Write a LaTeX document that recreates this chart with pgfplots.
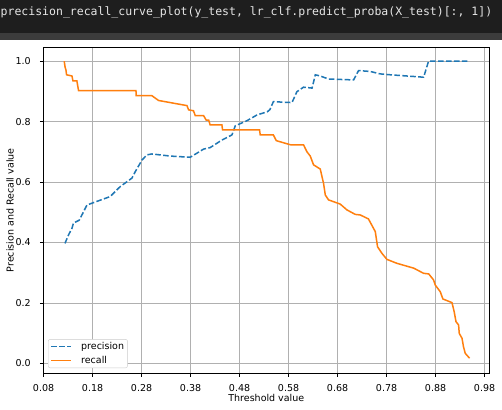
\documentclass[border=0pt]{standalone}
\usepackage{pgfplots}
\pgfplotsset{compat=1.18}
\usepackage{fontspec}
\setmainfont{DejaVu Sans}
\newfontfamily\codefont{DejaVu Sans Mono}
\definecolor{tabblue}{HTML}{1F77B4}
\definecolor{taborange}{HTML}{FF7F0E}
\definecolor{gridgray}{HTML}{B0B0B0}
\definecolor{hdrdark}{HTML}{1E1E1E}
\definecolor{hdrgray}{HTML}{3C3C3C}
\definecolor{hdrtext}{HTML}{E6E6E6}
\definecolor{legedge}{HTML}{CCCCCC}

\pgfplotstableread{
x y
0.1237 0.397
0.131 0.425
0.138 0.447
0.141 0.464
0.153 0.474
0.1686 0.524
0.216 0.552
0.2365 0.585
0.2604 0.613
0.267 0.634
0.281 0.673
0.291 0.690
0.301 0.693
0.3386 0.686
0.3794 0.682
0.4065 0.709
0.420 0.714
0.444 0.739
0.4645 0.756
0.4712 0.786
0.495 0.803
0.5155 0.822
0.537 0.833
0.542 0.840
0.549 0.866
0.587 0.863
0.597 0.899
0.6106 0.914
0.628 0.911
0.6346 0.955
0.6447 0.951
0.6616 0.941
0.7127 0.938
0.7229 0.969
0.7467 0.966
0.767 0.958
0.7876 0.955
0.8557 0.947
0.8657 1.0
0.9494 1.0
}\precisiontable

\pgfplotstableread{
x y
0.1222 1.000
0.1240 0.980
0.1257 0.971
0.1270 0.955
0.1380 0.951
0.1400 0.935
0.1480 0.935
0.1514 0.903
0.2686 0.903
0.2690 0.886
0.3010 0.886
0.3147 0.870
0.3727 0.853
0.3760 0.839
0.3860 0.836
0.3896 0.820
0.4065 0.820
0.4120 0.805
0.4170 0.805
0.4200 0.789
0.4440 0.789
0.4453 0.773
0.5208 0.773
0.5222 0.756
0.5490 0.756
0.5550 0.737
0.5847 0.723
0.6106 0.723
0.6176 0.700
0.6243 0.686
0.6310 0.657
0.6447 0.643
0.6514 0.596
0.6550 0.557
0.6596 0.546
0.6616 0.541
0.6855 0.527
0.6990 0.508
0.7160 0.493
0.7265 0.491
0.7430 0.478
0.7570 0.436
0.7616 0.386
0.7706 0.364
0.7808 0.344
0.8012 0.331
0.8355 0.315
0.8555 0.298
0.8660 0.296
0.8760 0.276
0.8794 0.259
0.8896 0.237
0.8950 0.213
0.9135 0.201
0.9180 0.171
0.9217 0.138
0.9270 0.127
0.9284 0.099
0.9340 0.083
0.9370 0.055
0.9406 0.033
0.9494 0.017
}\recalltable

\begin{document}
\begin{tikzpicture}
\fill[white] (0,0) rectangle (502pt,-409pt);
\fill[hdrdark] (0,0) rectangle (502pt,-33pt);
\fill[hdrgray] (0,-33pt) rectangle (502pt,-40pt);
\node[anchor=west, inner sep=0pt, text=hdrtext, font=\codefont\fontsize{11.5}{12}\selectfont] at (0.5pt,-12.5pt) {precision\_recall\_curve\_plot(y\_test, lr\_clf.predict\_proba(X\_test)[:, 1])};
\begin{axis}[
  at={(43.3pt,-373.3pt)}, anchor=south west,
  scale only axis, width=446pt, height=326pt,
  xmin=0.0795, xmax=0.9897, ymin=-0.033, ymax=1.046,
  xtick={0.08,0.18,0.28,0.38,0.48,0.58,0.68,0.78,0.88,0.98},
  xticklabels={0.08,0.18,0.28,0.38,0.48,0.58,0.68,0.78,0.88,0.98},
  ytick={0,0.2,0.4,0.6,0.8,1.0},
  yticklabels={0.0,0.2,0.4,0.6,0.8,1.0},
  tick align=outside, major tick length=3.5pt,
  xtick pos=left, ytick pos=left,
  grid=major, major grid style={gridgray, line width=0.8pt},
  axis line style={line width=0.8pt, black},
  every tick/.style={black, line width=0.8pt},
  tick label style={font=\fontsize{9.5}{11}\selectfont},
  xticklabel style={anchor=north, yshift=-4.5pt},
  yticklabel style={anchor=east, xshift=-5.6pt},
  xlabel={Threshold value}, ylabel={Precision and Recall value},
  label style={font=\fontsize{9.5}{11}\selectfont},
  xlabel style={at={(axis description cs:0.5,0)}, anchor=center, yshift=-24.5pt},
  ylabel style={at={(axis description cs:-0.0747,0.5)}, anchor=center},
  legend style={at={(axis description cs:0,0)}, anchor=south west, xshift=4.7pt, yshift=5.3pt,
    draw=legedge, rounded corners=2pt, fill=white, font=\fontsize{9.5}{11}\selectfont,
    inner xsep=2.5pt, inner ysep=2pt, row sep=3pt, column sep=8pt,
    nodes={inner sep=1pt, anchor=west}},
  legend cell align=left,
  legend image code/.code={\draw[#1] (0pt,0pt) -- (20pt,0pt);},
]
\addplot[tabblue, line width=1.5pt, dash pattern=on 5.55pt off 2.4pt] table[x=x,y=y] {\precisiontable};
\addlegendentry{precision}
\addplot[taborange, line width=1.5pt] table[x=x,y=y] {\recalltable};
\addlegendentry{recall}
\end{axis}
\pgfresetboundingbox
\path[use as bounding box] (0,0) rectangle (502pt,-409pt);
\end{tikzpicture}
\end{document}
